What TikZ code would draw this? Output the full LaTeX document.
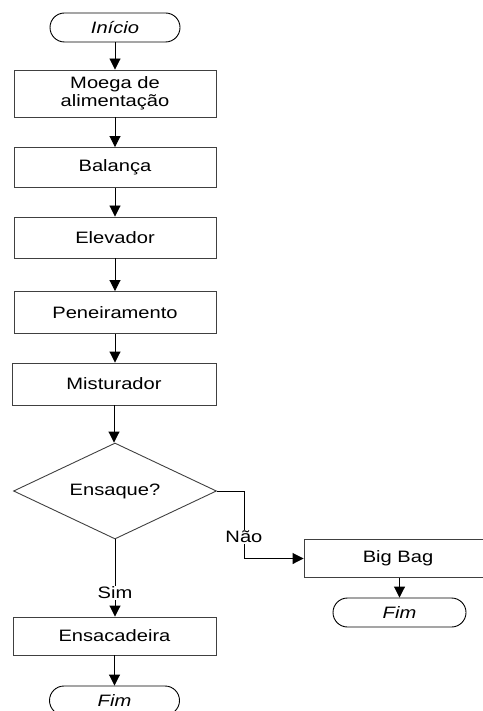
\documentclass[tikz,border=0pt]{standalone}
\usepackage{fontspec}
\setmainfont{Liberation Sans}[FakeStretch=1.22]
\usetikzlibrary{shapes.geometric,arrows.meta}
\begin{document}
\begin{tikzpicture}[x=1pt,y=-1pt,
  font=\fontsize{16.5}{18}\selectfont,
  proc/.style={draw=black!75, line width=0.9pt, rectangle, minimum width=202pt, inner sep=0pt, align=center},
  term/.style={draw=black, line width=0.9pt, rectangle, rounded corners=14.5pt, minimum width=130pt, minimum height=29pt, inner sep=0pt, font=\fontsize{16.5}{18}\selectfont\itshape},
  decis/.style={draw=black!75, line width=0.9pt, diamond, aspect=2.1, minimum width=203pt, minimum height=96pt, inner sep=0pt},
  arr/.style={draw=black, line width=0.9pt, -{Triangle[width=11pt,length=11pt]}},
  lbl/.style={fill=white, inner sep=1pt}
]
\useasboundingbox (0,0) rectangle (482,711);
\node[term] (ini) at (115,27.5) {Início};
\node[proc, minimum height=47pt] (moega) at (115,93.5) {Moega de\\alimentação};
\node[proc, minimum height=40pt] (bal) at (115,167.5) {Balança};
\node[proc, minimum height=41pt] (elev) at (115,237.5) {Elevador};
\node[proc, minimum height=42pt] (pen) at (115,312.5) {Peneiramento};
\node[proc, minimum height=42pt, minimum width=204pt] (mist) at (114,384) {Misturador};
\node[decis] (dec) at (115,491) {Ensaque?};
\node[proc, minimum height=38pt, minimum width=188pt] (bag) at (398,558.5) {Big Bag};
\node[term, minimum width=133pt] (fim2) at (399.5,612.5) {Fim};
\node[proc, minimum height=38pt, minimum width=203pt] (ens) at (114.5,636) {Ensacadeira};
\node[term] (fim1) at (114.5,700.5) {Fim};
\draw[arr] (ini) -- (moega);
\draw[arr] (moega) -- (bal);
\draw[arr] (bal) -- (elev);
\draw[arr] (elev) -- (pen);
\draw[arr] (pen) -- (pen|-mist.north);
\draw[arr] (mist) -- (mist|-dec.north);
\draw[arr] (dec.south) -- (dec.south|-ens.north) node[lbl, pos=0.69] (sim) {Sim};
\draw[arr] (dec.east) -- ++(27,0) |- (bag.west) node[lbl, pos=0.34] (nao) {Não};
\draw[arr] (fim2|-bag.south) -- (fim2.north);
\draw[arr] (ens) -- (fim1);
\end{tikzpicture}
\end{document}
